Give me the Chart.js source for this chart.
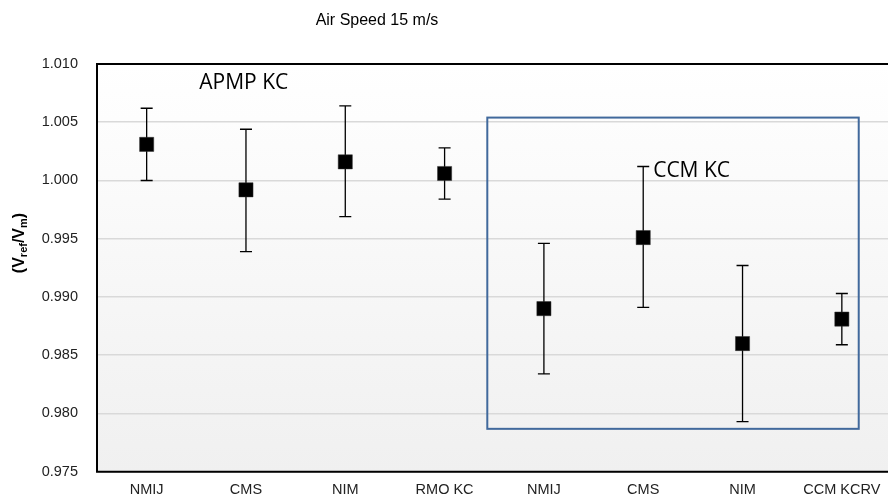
<!DOCTYPE html>
<html>
<head>
<meta charset="utf-8">
<script src="https://cdn.jsdelivr.net/npm/chart.js@4.4.0/dist/chart.umd.min.js"></script>
<style>
  html, body { margin: 0; padding: 0; background: #fff; overflow: hidden; }
  canvas { display: block; }
</style>
</head>
<body>
<canvas id="grafico" width="902" height="504"></canvas>
<script>
const categorias = ['NMIJ', 'CMS', 'NIM', 'RMO KC', 'NMIJ', 'CMS', 'NIM', 'CCM KCRV'];
const razao = [1.0031, 0.9992, 1.0016, 1.0006, 0.9890, 0.9951, 0.9860, 0.9881];
const limiteSup = [1.0062, 1.0044, 1.0064, 1.0028, 0.9946, 1.0012, 0.9927, 0.9903];
const limiteInf = [1.0000, 0.9939, 0.9969, 0.9984, 0.9834, 0.9891, 0.9793, 0.9859];
const yTicks = [0.975, 0.980, 0.985, 0.990, 0.995, 1.000, 1.005, 1.010];

// caixa do CCM KC (em unidades de categoria / valor)
const caixaX = [3.43, 7.17];
const caixaY = [0.97868, 1.0054];
const rotulos = [
  { text: 'APMP KC', x: 0.53, y: 1.00836 },
  { text: 'CCM KC', x: 5.10, y: 1.0008 }
];

const fundo = {
  id: 'fundo',
  beforeDraw(chart) {
    const { ctx, chartArea: a } = chart;
    const g = ctx.createLinearGradient(0, a.top, 0, a.bottom);
    g.addColorStop(0, '#ffffff');
    g.addColorStop(1, '#f0f0f0');
    ctx.save();
    ctx.fillStyle = g;
    ctx.fillRect(a.left, a.top, a.right - a.left, a.bottom - a.top);
    ctx.restore();
  }
};

const barrasErro = {
  id: 'barrasErro',
  beforeDatasetsDraw(chart) {
    const { ctx, scales: { x, y } } = chart;
    ctx.save();
    ctx.strokeStyle = '#000';
    ctx.lineWidth = 1.3;
    razao.forEach((v, i) => {
      const px = x.getPixelForValue(i);
      const t = y.getPixelForValue(limiteSup[i]);
      const b = y.getPixelForValue(limiteInf[i]);
      ctx.beginPath();
      ctx.moveTo(px, t); ctx.lineTo(px, b);
      ctx.moveTo(px - 6, t); ctx.lineTo(px + 6, t);
      ctx.moveTo(px - 6, b); ctx.lineTo(px + 6, b);
      ctx.stroke();
    });
    ctx.restore();
  },
  afterDatasetsDraw(chart) {
    const { ctx, chartArea: a, scales: { x, y } } = chart;
    ctx.save();
    // moldura
    ctx.strokeStyle = '#000';
    ctx.lineWidth = 2;
    ctx.beginPath();
    ctx.moveTo(a.right + 2, a.top);
    ctx.lineTo(a.left, a.top);
    ctx.lineTo(a.left, a.bottom);
    ctx.lineTo(a.right + 2, a.bottom);
    ctx.stroke();

    // caixa azul
    const x0 = x.getPixelForValue(caixaX[0]), x1 = x.getPixelForValue(caixaX[1]);
    const y0 = y.getPixelForValue(caixaY[1]), y1 = y.getPixelForValue(caixaY[0]);
    ctx.strokeStyle = '#41699c';
    ctx.lineWidth = 2;
    ctx.strokeRect(x0, y0, x1 - x0, y1 - y0);

    // rotulos
    ctx.fillStyle = '#000';
    ctx.font = '21px "Open Sans"';
    ctx.textBaseline = 'middle';
    ctx.textAlign = 'left';
    rotulos.forEach(r => ctx.fillText(r.text, x.getPixelForValue(r.x), y.getPixelForValue(r.y)));

    // titulo
    ctx.font = '16px "Liberation Sans", Arial';
    ctx.textAlign = 'center';
    ctx.fillText('Air Speed 15 m/s', 377, 21);

    // titulo eixo y com subscritos
    ctx.translate(20, 243);
    ctx.rotate(-Math.PI / 2);
    const partes = [
      ['(V', 'bold 16px "Liberation Sans", Arial', 0],
      ['ref', 'bold 11px "Liberation Sans", Arial', 4],
      ['/V', 'bold 16px "Liberation Sans", Arial', 0],
      ['m', 'bold 11px "Liberation Sans", Arial', 4],
      [')', 'bold 16px "Liberation Sans", Arial', 0]
    ];
    let total = 0;
    partes.forEach(p => { ctx.font = p[1]; total += ctx.measureText(p[0]).width; });
    let cx = -total / 2;
    ctx.textAlign = 'left';
    partes.forEach(p => {
      ctx.font = p[1];
      ctx.fillText(p[0], cx, p[2]);
      cx += ctx.measureText(p[0]).width;
    });
    ctx.restore();
  }
};

new Chart(document.getElementById('grafico'), {
  type: 'line',
  data: {
    labels: categorias,
    datasets: [{
      data: razao,
      showLine: false,
      pointStyle: 'rect',
      pointRadius: 10,
      pointHoverRadius: 10,
      backgroundColor: '#000',
      borderColor: '#333',
      pointBorderWidth: 0.5
    }]
  },
  plugins: [fundo, barrasErro],
  options: {
    responsive: false,
    animation: false,
    layout: { padding: { top: 64, left: 0, right: 0, bottom: 0 } },
    plugins: {
      legend: { display: false },
      tooltip: { enabled: false }
    },
    scales: {
      x: {
        offset: true,
        grid: { display: false, drawTicks: false, offset: true },
        border: { display: false },
        ticks: { color: '#222', font: { family: '"Liberation Sans", Arial', size: 14.5 }, padding: 10, maxRotation: 0, autoSkip: false },
        afterFit(s) { s.height = 32.3; }
      },
      y: {
        min: 0.975,
        max: 1.010,
        afterBuildTicks(s) { s.ticks = yTicks.map(v => ({ value: v })); },
        grid: { color: '#d9d9d9', lineWidth: 1.5, drawTicks: false },
        border: { display: false },
        ticks: {
          color: '#222',
          font: { family: '"Liberation Sans", Arial', size: 14.5 },
          padding: 19,
          callback: v => Number(v).toFixed(3)
        },
        afterFit(s) { s.width = 97; }
      }
    }
  }
});
</script>
</body>
</html>
